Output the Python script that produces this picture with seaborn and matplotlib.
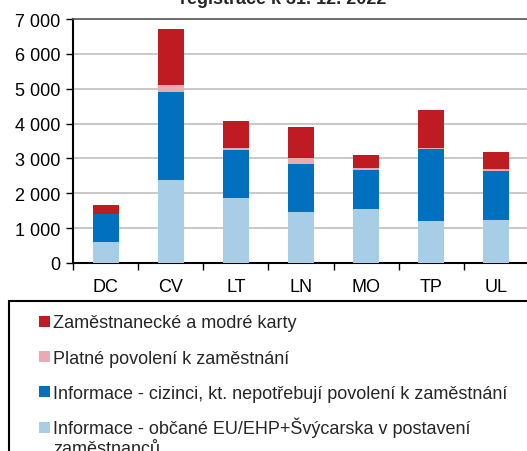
import pandas as pd
import numpy as np
import matplotlib
matplotlib.use("Agg")
import matplotlib.pyplot as plt
from matplotlib.patches import Rectangle
from matplotlib.ticker import FuncFormatter, FixedLocator
import seaborn as sns

# data
regions = ["DC", "CV", "LT", "LN", "MO", "TP", "UL"]
eu_citizens = [590, 2380, 1865, 1473, 1549, 1195, 1233]
no_permit_needed = [815, 2516, 1385, 1377, 1129, 2085, 1416]
valid_permits = [15, 210, 58, 153, 47, 20, 48]
cards = [240, 1607, 756, 889, 382, 1100, 487]

labels = [
    "Zaměstnanecké a modré karty",
    "Platné povolení k zaměstnání",
    "Informace - cizinci, kt. nepotřebují povolení k zaměstnání",
    "Informace - občané EU/EHP+Švýcarska v postavení\nzaměstnanců",
]
colors = ["#BE1B22", "#EAAAB0", "#0070BF", "#A8CDE7"]

df = pd.DataFrame({
    "region": regions,
    "eu": eu_citizens,
    "noperm": no_permit_needed,
    "permit": valid_permits,
    "cards": cards,
})
df["l1"] = df["eu"]
df["l2"] = df["l1"] + df["noperm"]
df["l3"] = df["l2"] + df["permit"]
df["l4"] = df["l3"] + df["cards"]

sns.set_style("white")
plt.rcParams["font.family"] = ["Liberation Sans", "DejaVu Sans"]

W, H = 527, 452
fig = plt.figure(figsize=(W / 100, H / 100), dpi=100)
ax = fig.add_axes([73 / W, 1 - 264 / H, 456 / W, 244 / H])

# stacked bars drawn as overlapping cumulative totals
for col, c in zip(["l4", "l3", "l2", "l1"], colors):
    sns.barplot(data=df, x="region", y=col, color=c, width=0.4,
                saturation=1, linewidth=0, ax=ax, zorder=3)

ax.set_ylim(0, 7000)
ax.set_xlim(-0.5, 6.5)
ax.set_yticks(range(0, 7001, 1000))
ax.yaxis.set_major_formatter(FuncFormatter(lambda v, p: f"{int(v):,}".replace(",", " ")))
ax.yaxis.grid(True, color="#BFBFBF", linewidth=1.2, zorder=0)
ax.set_xlabel("")
ax.set_ylabel("")

ax.tick_params(axis="y", which="major", direction="out", length=5, width=1,
               color="black", labelsize=13, labelcolor="black", pad=4, left=True)
ax.tick_params(axis="x", which="major", length=0, labelsize=13, pad=11, labelcolor="black")
ax.xaxis.set_minor_locator(FixedLocator(np.arange(-0.5, 7, 1)))
ax.tick_params(axis="x", which="minor", direction="out", length=5, width=1,
               color="black", bottom=True)

for s in ["left", "bottom"]:
    ax.spines[s].set_color("black")
    ax.spines[s].set_linewidth(1.5)
ax.spines["top"].set_color("#595959")
ax.spines["top"].set_linewidth(1.2)
ax.spines["right"].set_visible(False)

# title, mostly cut off at the top edge as in the reference
fig.text(283 / W, 1 - 4 / H, "registrace k 31. 12. 2022", ha="center",
         va="baseline", fontsize=13, fontweight="bold")

# legend box (runs past the figure edge, as in the reference)
fig.patches.append(Rectangle((9 / W, -0.1), 1.0, 1 - 302 / H + 0.1,
                             transform=fig.transFigure, fill=False,
                             edgecolor="black", linewidth=1.5))
for i, (lab, c) in enumerate(zip(labels, colors)):
    base = 328.5 + 35.3 * i
    fig.patches.append(Rectangle((39 / W, 1 - (base - 0.8) / H), 11 / W, 11 / H,
                                 transform=fig.transFigure, facecolor=c,
                                 edgecolor="none"))
    for j, line in enumerate(lab.split("\n")):
        fig.text(53 / W, 1 - (base + 20 * j) / H, line, fontsize=13,
                 ha="left", va="baseline")

fig.savefig("out.png", dpi=100)
